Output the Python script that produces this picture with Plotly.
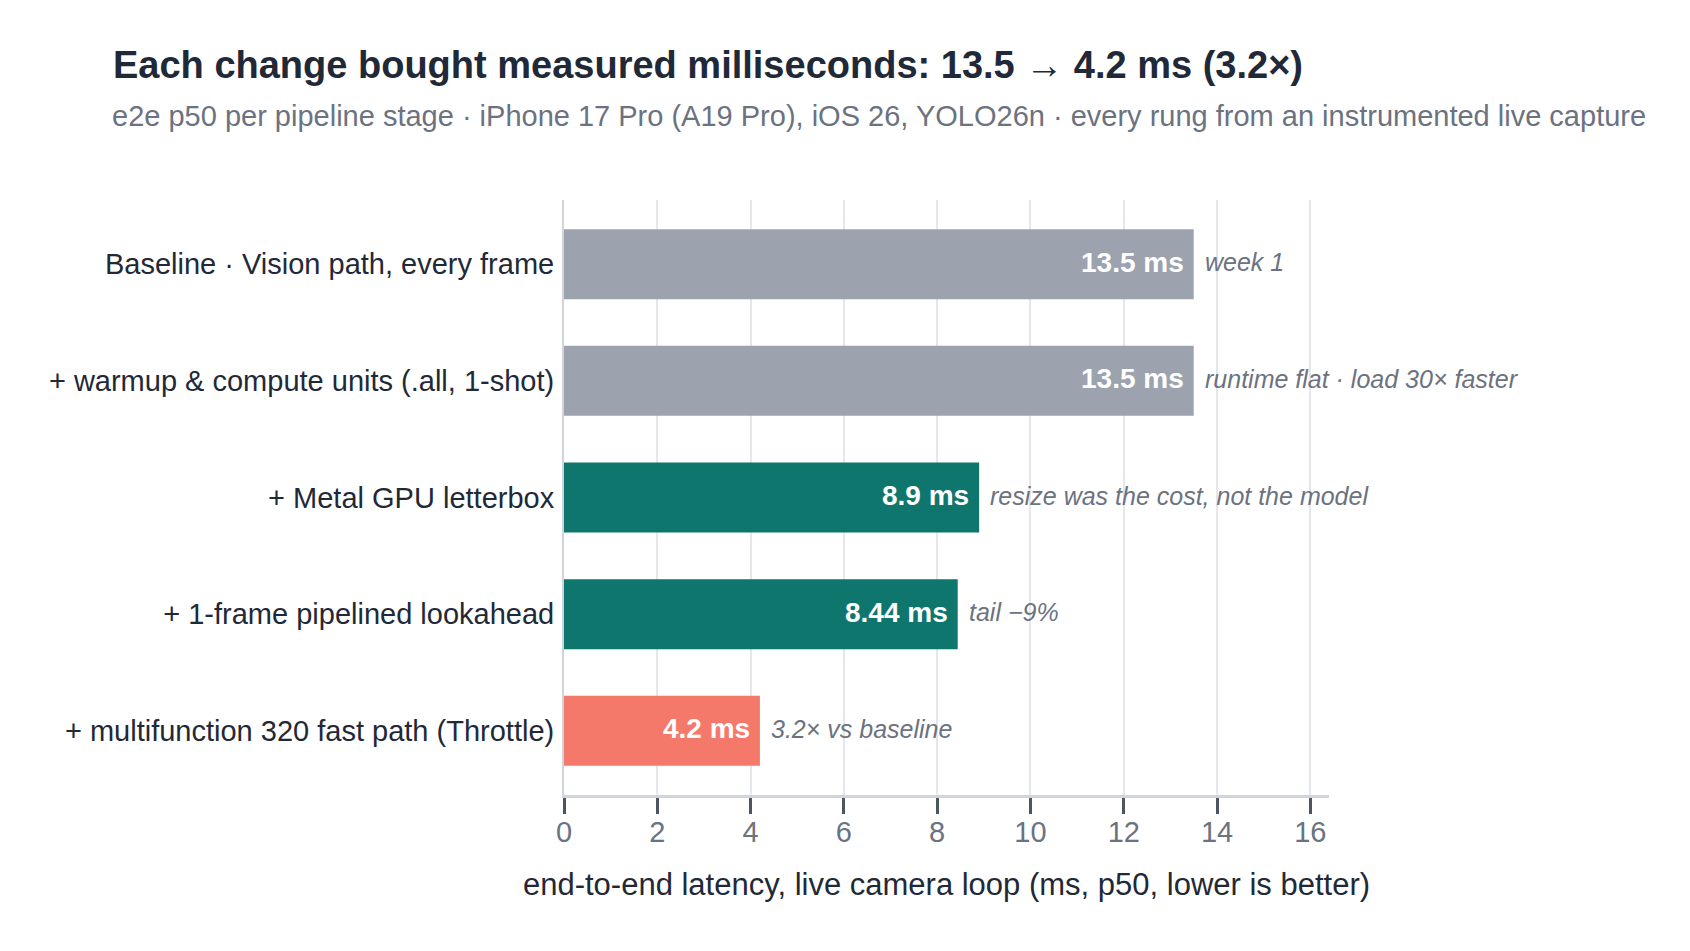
import plotly.graph_objects as go

categories = [
    "Baseline · Vision path, every frame",
    "+ warmup & compute units (.all, 1-shot)",
    "+ Metal GPU letterbox",
    "+ 1-frame pipelined lookahead",
    "+ multifunction 320 fast path (Throttle)",
]
latency_ms = [13.5, 13.5, 8.9, 8.44, 4.2]
bar_labels = ["13.5 ms", "13.5 ms", "8.9 ms", "8.44 ms", "4.2 ms"]
notes = [
    "week 1",
    "runtime flat · load 30× faster",
    "resize was the cost, not the model",
    "tail −9%",
    "3.2× vs baseline",
]
bar_colors = ["#9ca3af", "#9ca3af", "#0f766e", "#0f766e", "#f4796b"]
x_ticks = [0, 2, 4, 6, 8, 10, 12, 14, 16]

FONT = "Liberation Sans, Arial, Helvetica, sans-serif"
# page has an 8px body margin; size the figure to sit inside the 1690x951 window
W, H = 1674, 935
L, T = 556, 192
PW, PH = 765, 595
R = W - L - PW
B = H - T - PH

fig = go.Figure()
fig.add_trace(go.Bar(
    y=categories,
    x=latency_ms,
    orientation="h",
    width=0.6,
    marker=dict(color=bar_colors, line=dict(width=0)),
    hoverinfo="skip",
))

for cat, val, lab, note in zip(categories, latency_ms, bar_labels, notes):
    fig.add_annotation(
        x=val, y=cat, xref="x", yref="y",
        text=lab, showarrow=False,
        xanchor="right", yanchor="middle", xshift=-8, yshift=2,
        font=dict(family=FONT, size=28, color="#ffffff", weight="bold"),
    )
    fig.add_annotation(
        x=val, y=cat, xref="x", yref="y",
        text=note, showarrow=False,
        xanchor="left", yanchor="middle", xshift=9, yshift=2,
        font=dict(family=FONT, size=25, color="#6b7280", style="italic"),
    )

fig.add_annotation(
    xref="paper", yref="paper",
    x=(102 - L) / PW, y=(T + PH - 108) / PH,
    text="e2e p50 per pipeline stage · iPhone 17 Pro (A19 Pro), iOS 26, YOLO26n · every rung from an instrumented live capture",
    showarrow=False, xanchor="left", yanchor="middle",
    font=dict(family=FONT, size=29, color="#6b7280"),
)

fig.update_layout(
    width=W, height=H,
    margin=dict(l=L, r=R, t=T, b=B, autoexpand=False),
    paper_bgcolor="#ffffff",
    plot_bgcolor="#ffffff",
    showlegend=False,
    title=dict(
        text="<b>Each change bought measured milliseconds: 13.5 → 4.2 ms (3.2×)</b>",
        xref="container", yref="container",
        x=105 / W, y=1 - 57 / H, xanchor="left", yanchor="middle",
        font=dict(family=FONT, size=38, color="#1f2937"),
    ),
    xaxis=dict(
        range=[0, 16.4],
        tickvals=x_ticks,
        ticktext=[str(v) for v in x_ticks],
        showgrid=True, gridcolor="#e5e7eb", gridwidth=2,
        zeroline=False,
        showline=True, linecolor="#d1d5db", linewidth=3,
        ticks="outside", ticklen=16, tickwidth=3, tickcolor="#4b5563",
        ticklabelstandoff=-7,
        tickfont=dict(family=FONT, size=29, color="#6b7280"),
        title=dict(
            text="end-to-end latency, live camera loop (ms, p50, lower is better)",
            font=dict(family=FONT, size=31, color="#1f2937"),
            standoff=27,
        ),
    ),
    yaxis=dict(
        type="category",
        categoryorder="array", categoryarray=categories,
        range=[4.55, -0.55],
        showgrid=False, zeroline=False,
        showline=True, linecolor="#d1d5db", linewidth=2,
        ticks="", ticklabelstandoff=2,
        tickfont=dict(family=FONT, size=29, color="#1f2937"),
    ),
)

fig.write_html("out.html")
